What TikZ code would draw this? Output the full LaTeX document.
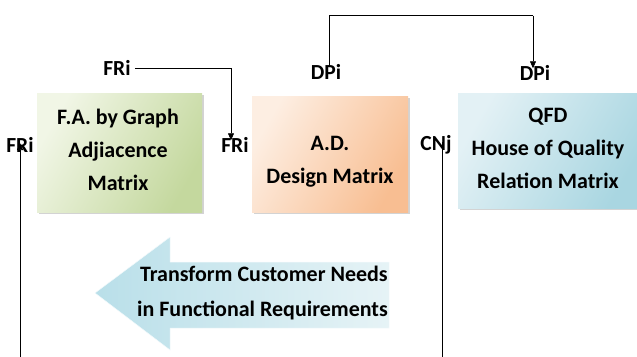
\documentclass[tikz,border=0pt]{standalone}
\usepackage{fontspec}
\setmainfont{Carlito}
\usetikzlibrary{shadows,arrows.meta}
\definecolor{gA}{HTML}{F1F6E6}
\definecolor{gB}{HTML}{C4D89E}
\definecolor{oA}{HTML}{FDEEE2}
\definecolor{oB}{HTML}{F8BE92}
\definecolor{bA}{HTML}{E3F1F5}
\definecolor{bB}{HTML}{A9D6E1}
\definecolor{aA}{HTML}{B9DFE9}
\definecolor{aB}{HTML}{E6F3F6}
\begin{document}
\begin{tikzpicture}[x=1pt,y=-1pt,
  lbl/.style={font=\fontsize{21.5}{24}\selectfont\bfseries, inner sep=0pt},
  boxtext/.style={font=\fontsize{22}{33}\selectfont\bfseries, align=center, inner sep=0pt},
  box/.style={drop shadow={shadow xshift=2pt, shadow yshift=-2pt, opacity=0.35}},
  conn/.style={draw=black, line width=0.7pt},
  tip/.style={-{Triangle[length=7pt,width=6pt]}}]
\useasboundingbox (0,0) rectangle (637,356);
% boxes
\path[box, left color=gA, right color=gB, shading angle=60] (37,93) rectangle (202,212);
\path[box, left color=oA, right color=oB, shading angle=60] (252,96) rectangle (408,212);
\path[box, left color=bA, right color=bB, shading angle=60] (458,93) rectangle (642,208);
\node[boxtext] (fa) at (118,150) {F.A. by Graph\\Adjiacence\\Matrix};
\node[boxtext] (ad) at (330,162) {A.D.\\Design Matrix};
\node[boxtext] (qfd) at (548,148) {QFD\\House of Quality\\Relation Matrix};
% big arrow
\path[left color=aA, right color=aB, draw=white!85!aA, line width=0.5pt]
  (95,293) -- (170,237) -- (170,262) -- (389,262) -- (389,328) -- (170,328) -- (170,350) -- cycle;
\node[boxtext, font=\fontsize{22}{35}\selectfont\bfseries, align=right, anchor=east] (tcn) at (388,293)
  {Transform Customer Needs\\in Functional Requirements};
% labels
\node[lbl] (fr0) at (20,145) {FRi};
\node[lbl] (fr1) at (117,68) {FRi};
\node[lbl] (fr2) at (235,145) {FRi};
\node[lbl] (dp1) at (326,72) {DPi};
\node[lbl] (dp2) at (535,73) {DPi};
\node[lbl] (cn) at (436,145) {CNj};
\coordinate (b0) at (20,360);
\coordinate (b1) at (442,360);
\coordinate (t1) at (329,15.5);
\coordinate (t2) at (533,15.5);
% connectors
\draw[conn, tip] (b0) -- ([yshift=2pt]fr0.center);
\draw[conn, tip] ([xshift=4pt]fr1.east) -| ([xshift=-4pt,yshift=-3pt]fr2.north);
\draw[conn] ([xshift=3pt,yshift=-3pt]dp1.north) -- (t1) -- (t2);
\draw[conn, tip] (t2) -- ([xshift=-2pt,yshift=-3pt]dp2.north);
\draw[conn] ([xshift=6pt,yshift=3pt]cn.center) -- (b1);
\end{tikzpicture}
\end{document}
